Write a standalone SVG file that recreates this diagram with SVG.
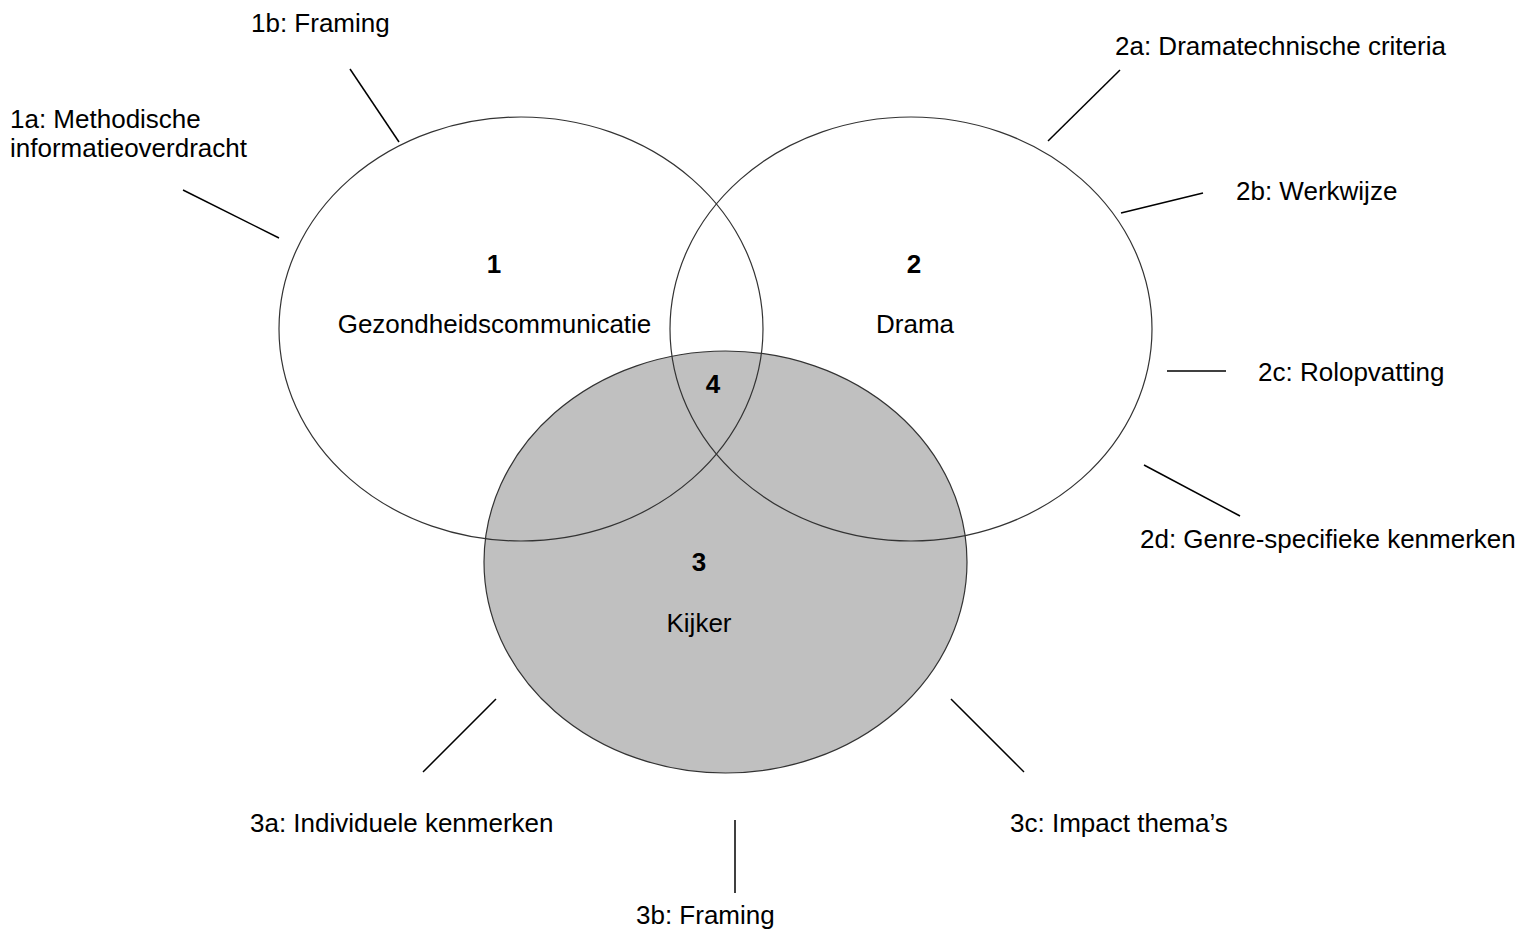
<svg xmlns="http://www.w3.org/2000/svg" width="1535" height="930" viewBox="0 0 1535 930">
<style>
text{font-family:"Liberation Sans",Arial,sans-serif;font-size:26px;fill:#000}
.b{font-weight:bold;text-anchor:middle}
.m{text-anchor:middle}
.ell{stroke:#333;stroke-width:1.2}
.con line{stroke:#000;stroke-width:1.5}
</style>
<rect width="1535" height="930" fill="#fff"/>
<g id="node3">
<ellipse class="ell" cx="725.5" cy="562" rx="241.5" ry="211" fill="#c0c0c0"/>
<text class="b" x="699" y="571">3</text>
<text class="m" x="699" y="632">Kijker</text>
</g>
<g id="node1">
<ellipse class="ell" cx="521" cy="329" rx="242" ry="212" fill="none"/>
<text class="b" x="494" y="273">1</text>
<text class="m" x="494.5" y="333">Gezondheidscommunicatie</text>
</g>
<g id="node2">
<ellipse class="ell" cx="911" cy="329" rx="241" ry="212" fill="none"/>
<text class="b" x="914" y="273">2</text>
<text class="m" x="915" y="333">Drama</text>
</g>
<g id="node4">
<text class="b" x="713" y="393">4</text>
</g>
<g id="connectors" class="con">
<line x1="350" y1="69" x2="399" y2="142"/>
<line x1="183" y1="190" x2="279" y2="238"/>
<line x1="1048" y1="141" x2="1120" y2="70"/>
<line x1="1121" y1="213" x2="1203" y2="193"/>
<line x1="1167" y1="371" x2="1226" y2="371"/>
<line x1="1144" y1="465" x2="1240" y2="516"/>
<line x1="496" y1="699" x2="423" y2="772"/>
<line x1="735" y1="820" x2="735" y2="893"/>
<line x1="951" y1="699" x2="1024" y2="772"/>
</g>
<g id="labels">
<text x="251" y="32">1b: Framing</text>
<text x="10" y="128">1a: Methodische</text>
<text x="10" y="157">informatieoverdracht</text>
<text x="1115" y="55">2a: Dramatechnische criteria</text>
<text x="1236" y="200">2b: Werkwijze</text>
<text x="1258" y="381">2c: Rolopvatting</text>
<text x="1140" y="548">2d: Genre-specifieke kenmerken</text>
<text x="250" y="832">3a: Individuele kenmerken</text>
<text x="1010" y="832">3c: Impact thema’s</text>
<text x="636" y="924">3b: Framing</text>
</g>
</svg>
